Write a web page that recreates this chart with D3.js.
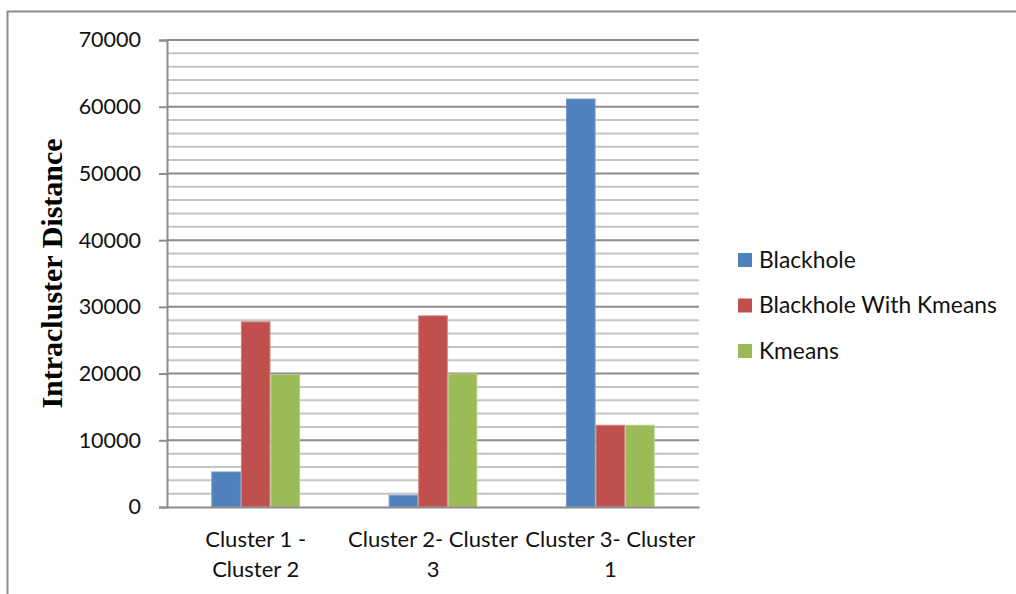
<!DOCTYPE html>
<html>
<head>
<meta charset="utf-8">
<script src="https://cdn.jsdelivr.net/npm/d3@7"></script>
<style>
  html, body { margin: 0; padding: 0; background: #fff; }
  svg { display: block; }
</style>
</head>
<body>
<svg id="chart" width="1016" height="594"></svg>
<script>
const categories = ["Cluster 1 - Cluster 2", "Cluster 2- Cluster 3", "Cluster 3- Cluster 1"];
const categoryLines = [["Cluster 1 -", "Cluster 2"], ["Cluster 2- Cluster", "3"], ["Cluster 3- Cluster", "1"]];
const seriesNames = ["Blackhole", "Blackhole With Kmeans", "Kmeans"];
const blackhole = [5250, 1750, 61150];
const blackholeWithKmeans = [27750, 28650, 12250];
const kmeans = [19850, 19950, 12250];
const yTicks = [0, 10000, 20000, 30000, 40000, 50000, 60000, 70000];
const yMinorTicks = d3.range(0, 70001, 2000);
const colors = ["#4F81BD", "#C0504D", "#9BBB59"];
const edgeColors = ["#7399cb", "#d0807e", "#b5cf86"];

const seriesValues = [blackhole, blackholeWithKmeans, kmeans];

const svg = d3.select("#chart");
const mLeft = 167, mRight = 699, mTop = 40, mBottom = 507;

const uiFont = "Lato, 'Open Sans', sans-serif";

// outer frame
svg.append("rect")
  .attr("x", 7.5).attr("y", 11.5)
  .attr("width", 1030).attr("height", 620)
  .attr("fill", "none").attr("stroke", "#8c8c8c").attr("stroke-width", 2);

const y = d3.scaleLinear().domain([0, 70000]).range([mBottom, mTop]);
const x0 = d3.scaleBand().domain(categories).range([mLeft, mRight]).padding(0);
const x1 = d3.scaleBand().domain(seriesNames)
  .range([x0.bandwidth() * 0.25, x0.bandwidth() * 0.75]).padding(0);

// minor gridlines
svg.append("g").selectAll("line")
  .data(yMinorTicks.filter(v => v % 10000 !== 0))
  .join("line")
  .attr("x1", mLeft).attr("x2", mRight)
  .attr("y1", d => y(d)).attr("y2", d => y(d))
  .attr("stroke", "#c4c4c4").attr("stroke-width", 2);

// major gridlines
svg.append("g").selectAll("line")
  .data(yTicks.filter(v => v !== 0))
  .join("line")
  .attr("x1", mLeft).attr("x2", mRight)
  .attr("y1", d => y(d)).attr("y2", d => y(d))
  .attr("stroke", "#8c8c8c").attr("stroke-width", 2);

// bars
const rows = categories.map((c, i) => ({
  cat: c,
  vals: seriesNames.map((s, j) => ({ s, j, v: seriesValues[j][i] }))
}));

svg.append("g").selectAll("g")
  .data(rows)
  .join("g")
  .attr("transform", d => `translate(${x0(d.cat)},0)`)
  .selectAll("rect")
  .data(d => d.vals)
  .join("rect")
  .attr("x", d => x1(d.s) + 0.5)
  .attr("width", x1.bandwidth() - 1)
  .attr("y", d => y(d.v))
  .attr("height", d => y(0) - y(d.v))
  .attr("fill", d => colors[d.j])
  .attr("stroke", d => edgeColors[d.j])
  .attr("stroke-width", 1);

// y axis
const yAxis = d3.axisLeft(y).tickValues(yTicks).tickSize(8).tickPadding(18)
  .tickFormat(d3.format("d"));
const gy = svg.append("g").attr("transform", `translate(${mLeft},0)`).call(yAxis);
gy.select(".domain").attr("stroke", "#8c8c8c").attr("stroke-width", 2);
gy.selectAll(".tick line").attr("stroke", "#8c8c8c").attr("stroke-width", 2);
gy.selectAll(".tick text")
  .attr("font-family", uiFont).attr("font-size", 21.5).attr("fill", "#111");

// x axis
const xAxis = d3.axisBottom(x0).tickSize(0).tickFormat("");
const gx = svg.append("g").attr("transform", `translate(0,${mBottom})`).call(xAxis);
gx.select(".domain").attr("stroke", "#8c8c8c").attr("stroke-width", 2);

gx.selectAll(".tick").each(function(d, i) {
  const t = d3.select(this).append("text")
    .attr("text-anchor", "middle")
    .attr("font-family", uiFont).attr("font-size", 22)
    .attr("fill", "#111");
  categoryLines[i].forEach((line, k) => {
    t.append("tspan").attr("x", 0).attr("y", 40 + k * 30).text(line);
  });
});

// y axis title
svg.append("text")
  .attr("transform", `translate(62,${(mTop + mBottom) / 2}) rotate(-90)`)
  .attr("text-anchor", "middle")
  .attr("font-family", "'Liberation Serif', 'Times New Roman', serif")
  .attr("font-weight", "bold").attr("font-size", 30)
  .attr("fill", "#000")
  .text("Intracluster Distance");

// legend
const legend = svg.append("g").attr("transform", "translate(738,253)");
const li = legend.selectAll("g").data(seriesNames).join("g")
  .attr("transform", (d, i) => `translate(0,${i * 45.5})`);
li.append("rect").attr("width", 14).attr("height", 14)
  .attr("fill", (d, i) => colors[i]);
li.append("text").attr("x", 21).attr("y", 14.5)
  .attr("font-family", uiFont).attr("font-size", 22.8).attr("fill", "#111")
  .text(d => d);
</script>
</body>
</html>
